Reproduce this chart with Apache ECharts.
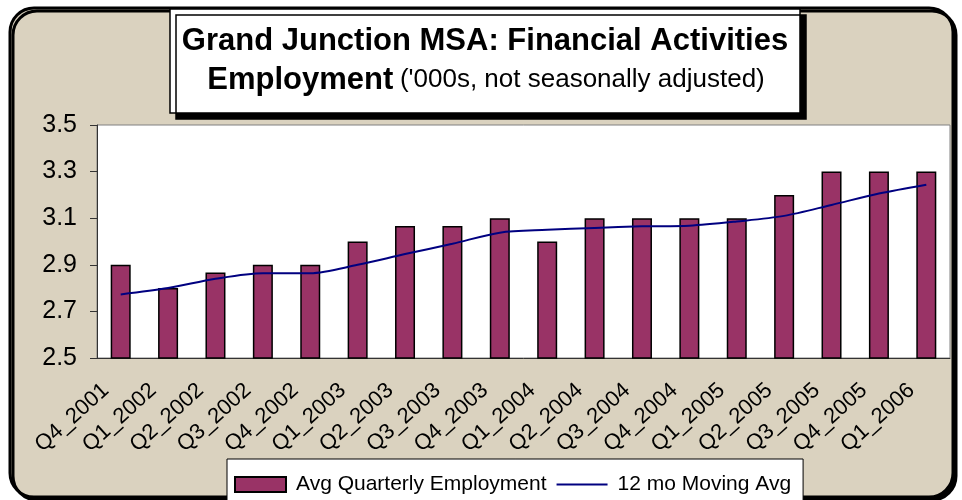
<!DOCTYPE html>
<html>
<head>
<meta charset="utf-8">
<script src="https://cdn.jsdelivr.net/npm/echarts@6/dist/echarts.min.js"></script>
<style>
  html, body { margin: 0; padding: 0; background: #fff; }
  #chart { width: 962px; height: 500px; }
</style>
</head>
<body>
<div id="chart"></div>
<script>
var quarters = ['Q4_2001','Q1_2002','Q2_2002','Q3_2002','Q4_2002','Q1_2003','Q2_2003','Q3_2003','Q4_2003',
                'Q1_2004','Q2_2004','Q3_2004','Q4_2004','Q1_2005','Q2_2005','Q3_2005','Q4_2005','Q1_2006'];
var avgQuarterly = [2.9, 2.8, 2.867, 2.9, 2.9, 3.0, 3.067, 3.067, 3.1,
                    3.0, 3.1, 3.1, 3.1, 3.1, 3.2, 3.3, 3.3, 3.3];
var movingAvg = [2.773, 2.80, 2.84, 2.864, 2.864, 2.90, 2.946, 2.99, 3.038,
                 3.05, 3.058, 3.065, 3.068, 3.086, 3.11, 3.157, 3.206, 3.244];
var yTicks = [2.5, 2.7, 2.9, 3.1, 3.3, 3.5];

var font = 'Liberation Sans, Arial, sans-serif';
// thin horizontal stroke for the line legend (corner specks keep the 51x15 box)
var lineIcon = 'path://M0,6.5L51,6.5L51,8.5L0,8.5Z M0,0L0.01,0L0,0.01Z M51,15L50.99,15L51,14.99Z';
var myChart = echarts.init(document.getElementById('chart'));

var option = {
  backgroundColor: '#fff',
  animation: false,
  graphic: [
    // outer rounded frame
    {
      type: 'rect', z: -10,
      shape: { x: 10, y: 8, width: 943, height: 489, r: 24 },
      style: { fill: '#dad2bf', stroke: '#000', lineWidth: 3,
               shadowColor: '#000', shadowOffsetX: 3, shadowOffsetY: 3 }
    },
    // title box
    {
      type: 'rect', z: 5,
      shape: { x: 170, y: 9, width: 630, height: 104 },
      style: { fill: '#fff', stroke: '#000', lineWidth: 1.5,
               shadowColor: '#000', shadowOffsetX: 6, shadowOffsetY: 6 }
    },
    {
      type: 'text', z: 6,
      style: { text: 'Grand Junction MSA: Financial Activities', x: 485, y: 41,
               align: 'center', verticalAlign: 'middle',
               font: 'bold 31px ' + font, fill: '#000' }
    },
    {
      type: 'text', z: 6,
      style: {
        text: '{b|Employment}  {n|(\'000s, not seasonally adjusted)}',
        x: 486, y: 80, align: 'center', verticalAlign: 'middle',
        rich: {
          b: { fontSize: 31, fontWeight: 'bold', fontFamily: font, fill: '#000' },
          n: { fontSize: 26, fontFamily: font, fill: '#000' }
        }
      }
    }
  ],
  grid: {
    left: 97, right: 12, top: 125, bottom: 142,
    show: true, backgroundColor: '#fff', borderColor: '#808080', borderWidth: 1
  },
  legend: {
    left: 227, top: 459,
    backgroundColor: '#fff', borderColor: '#000', borderWidth: 1,
    padding: [15, 12, 14, 7],
    itemWidth: 51, itemHeight: 15, itemGap: 10,
    textStyle: { fontSize: 21, fontFamily: font, color: '#000', padding: [0, 0, 0, 5] },
    data: [
      { name: 'Avg Quarterly Employment', icon: 'rect' },
      { name: '12 mo Moving Avg', icon: lineIcon, itemStyle: { color: '#000080', borderWidth: 0 } }
    ]
  },
  xAxis: {
    type: 'category',
    data: quarters,
    boundaryGap: true,
    axisLine: { lineStyle: { color: '#333', width: 1 } },
    axisTick: { inside: true, length: 6, lineStyle: { color: '#333' } },
    axisLabel: {
      interval: 0, rotate: 42, margin: 16, padding: [0, 20, 0, 0],
      fontSize: 22, fontFamily: font, color: '#000'
    }
  },
  yAxis: {
    type: 'value',
    min: 2.5, max: 3.5,
    splitLine: { show: false },
    axisLine: { show: true, lineStyle: { color: '#333', width: 1 } },
    axisTick: { show: true, length: 7, customValues: yTicks, lineStyle: { color: '#333' } },
    axisLabel: {
      customValues: yTicks, margin: 20, fontSize: 25, fontFamily: font, color: '#000',
      formatter: function (v) { return v.toFixed(1); }
    }
  },
  series: [
    {
      name: 'Avg Quarterly Employment',
      type: 'bar',
      barWidth: 20,
      itemStyle: { color: '#993366', borderColor: '#000', borderWidth: 1.5 },
      data: avgQuarterly
    },
    {
      name: '12 mo Moving Avg',
      type: 'line',
      smooth: 0.3,
      symbol: 'none',
      lineStyle: { color: '#000080', width: 2 },
      itemStyle: { color: '#000080' },
      data: movingAvg
    }
  ]
};

myChart.setOption(option);
</script>
</body>
</html>
